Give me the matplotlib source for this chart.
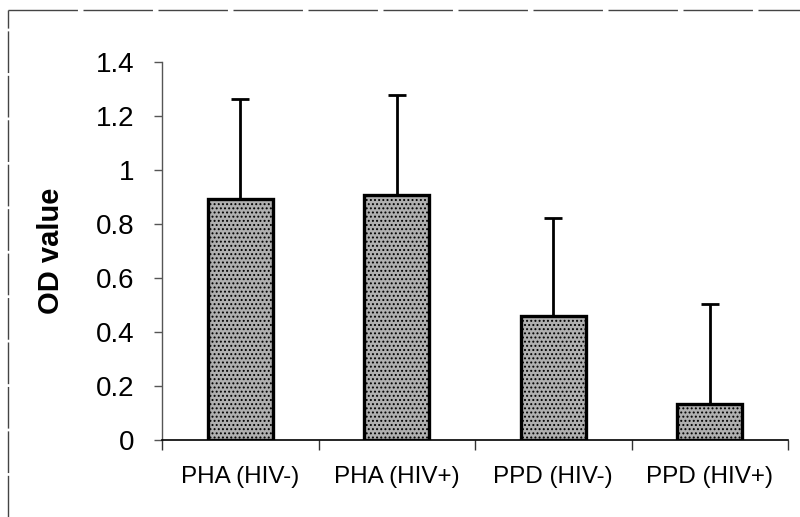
import matplotlib
matplotlib.use("Agg")
import matplotlib.pyplot as plt
from matplotlib.lines import Line2D
import numpy as np

categories = ["PHA (HIV-)", "PHA (HIV+)", "PPD (HIV-)", "PPD (HIV+)"]
means = [0.893, 0.907, 0.458, 0.133]
upper_err = [0.370, 0.371, 0.364, 0.371]
yticks = [0, 0.2, 0.4, 0.6, 0.8, 1.0, 1.2, 1.4]
ytick_labels = ["0", "0.2", "0.4", "0.6", "0.8", "1", "1.2", "1.4"]

plt.rcParams['font.family'] = ['Liberation Sans', 'DejaVu Sans']
plt.rcParams['hatch.color'] = '#666666'
plt.rcParams['hatch.linewidth'] = 0.9

fig = plt.figure(figsize=(8.0, 5.17), dpi=100)
ax = fig.add_axes([0.2025, 0.149, 0.7825, 0.731])

x = np.arange(len(categories))
ax.bar(x, means, width=0.415, facecolor='#b0b0b0', edgecolor='black',
       linewidth=2.4, hatch='....', zorder=2)
ax.errorbar(x, means, yerr=[np.zeros(len(means)), upper_err], fmt='none',
            ecolor='black', elinewidth=2.0, capsize=6.5, capthick=2.0, zorder=1)

ax.set_xlim(-0.5, len(categories) - 0.5)
ax.set_ylim(0, 1.4)
ax.set_yticks(yticks)
ax.set_yticklabels(ytick_labels)
ax.set_xticks(x)
ax.set_xticklabels(categories)
ax.set_xticks(np.arange(-0.5, len(categories)), minor=True)

ax.tick_params(axis='y', labelsize=20, length=6, width=1, direction='out', pad=14, color='#555555')
ax.tick_params(axis='x', which='major', labelsize=17.5, length=0, pad=19)
ax.tick_params(axis='x', which='minor', length=7, width=1, direction='out', color='#333333')

ax.spines['top'].set_visible(False)
ax.spines['right'].set_visible(False)
ax.spines['left'].set_color('#555555')
ax.spines['left'].set_linewidth(1.0)
ax.spines['bottom'].set_color('black')
ax.spines['bottom'].set_linewidth(1.2)

ax.set_ylabel("OD value", fontsize=21, fontweight='bold', labelpad=22)

# scan border lines
fig.add_artist(Line2D([8/800, 8/800], [0, 1 - 10/517], transform=fig.transFigure,
                      color='#444444', linewidth=1.0, linestyle=(0, (30, 2))))
fig.add_artist(Line2D([8/800, 1], [1 - 10/517, 1 - 10/517], transform=fig.transFigure,
                      color='#444444', linewidth=1.0, linestyle=(0, (50, 4))))

fig.savefig("out.png", dpi=100)
